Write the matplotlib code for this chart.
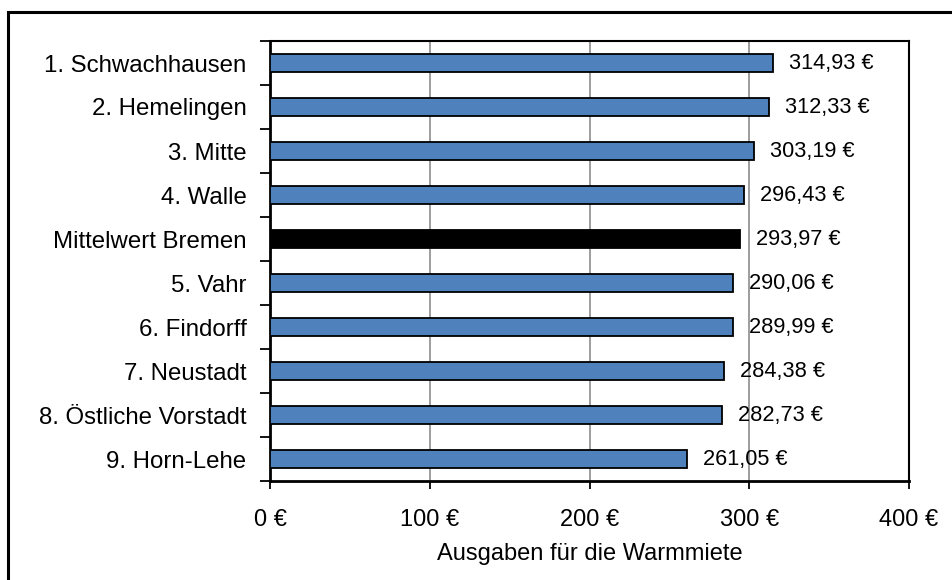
import numpy as np
import matplotlib
matplotlib.use("Agg")
import matplotlib.pyplot as plt
from matplotlib.patches import Rectangle

# === DONNÉES ===
stadtteile = ["1. Schwachhausen", "2. Hemelingen", "3. Mitte", "4. Walle",
              "Mittelwert Bremen", "5. Vahr", "6. Findorff", "7. Neustadt",
              "8. Östliche Vorstadt", "9. Horn-Lehe"]
warmmiete = [314.93, 312.33, 303.19, 296.43, 293.97, 290.06, 289.99, 284.38,
             282.73, 261.05]
farben = ["#4F81BD"] * 4 + ["#000000"] + ["#4F81BD"] * 5
x_ticks = [0, 100, 200, 300, 400]

plt.rcParams["font.family"] = ["Liberation Sans", "DejaVu Sans"]

fig = plt.figure(figsize=(9.53, 5.8), dpi=100)
ax = fig.add_axes([270 / 953, 1 - 481 / 580, 639 / 953, 440 / 580])

# cadre autour du graphique (coupé à droite et en bas comme dans l'original)
fig.patches.append(Rectangle((8 / 953, -0.1), 1.2, 1 - 12 / 580 + 0.1,
                             transform=fig.transFigure, fill=False,
                             edgecolor="black", linewidth=2.2))

y = np.arange(len(stadtteile))
ax.barh(y, warmmiete, height=0.4, color=farben, edgecolor="black",
        linewidth=1.3, zorder=3)

for yi, v in zip(y, warmmiete):
    txt = f"{v:.2f}".replace(".", ",") + " €"
    ax.text(v + 10, yi, txt, va="center", ha="left", fontsize=15.7, zorder=4)

ax.set_xlim(0, 400)
ax.set_ylim(len(stadtteile) - 0.5, -0.5)
ax.set_xticks(x_ticks)
ax.set_xticklabels([f"{t} €" for t in x_ticks], fontsize=17)
ax.set_yticks(y)
ax.set_yticklabels(stadtteile, fontsize=17.3)
ax.tick_params(axis="y", length=0, pad=17)
ax.set_yticks(np.arange(-0.5, len(stadtteile)), minor=True)
ax.tick_params(axis="y", which="minor", length=7, width=1.3)
ax.tick_params(axis="x", length=6, width=1.3, pad=14)
ax.grid(axis="x", color="#8c8c8c", linewidth=1.2, zorder=0)
ax.set_xlabel("Ausgaben für die Warmmiete", fontsize=17, labelpad=9)

for s in ax.spines.values():
    s.set_linewidth(1.5)
    s.set_color("black")
ax.spines["left"].set_linewidth(2)
ax.spines["bottom"].set_linewidth(2)

plt.savefig("out.png", dpi=100)
